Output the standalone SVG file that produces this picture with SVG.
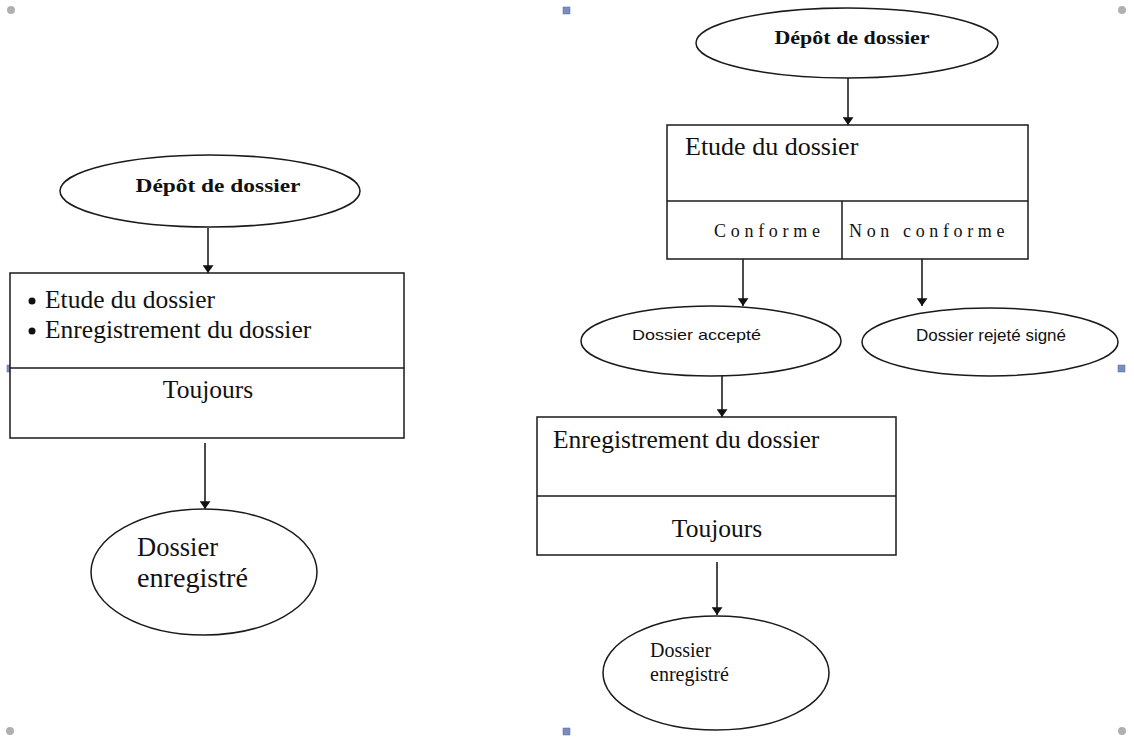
<svg xmlns="http://www.w3.org/2000/svg" width="1134" height="743" viewBox="0 0 1134 743">
  <style>
    .shape { fill: #ffffff; stroke: #1a1a1a; stroke-width: 1.5; }
    .div { stroke: #1a1a1a; stroke-width: 1.5; fill: none; }
    .edge { stroke: #111111; stroke-width: 1.5; fill: none; marker-end: url(#arrow); }
    .serif { font-family: "Liberation Serif", "Times New Roman", serif; fill: #111111; }
    .sans { font-family: "Liberation Sans", Arial, sans-serif; fill: #111111; }
    .title { font-size: 18px; font-weight: bold; text-anchor: middle; }
    .big { font-size: 25.5px; }
    .bullet { fill: #111111; }
    .handle-sq { fill: #7b8cc0; stroke: #5a6a9a; stroke-width: 0.5; }
    .handle-ci { fill: #b0b0b0; }
  </style>
  <defs>
    <marker id="arrow" viewBox="0 0 10 14" refX="10" refY="7" markerWidth="14" markerHeight="11" markerUnits="userSpaceOnUse" orient="auto">
      <path d="M0,0 L10,7 L0,14 Z" fill="#111111"/>
    </marker>
  </defs>
  <rect width="1134" height="743" fill="#ffffff"/>

  <!-- frame handles -->
  <g id="handles">
    <circle class="handle-ci" cx="11" cy="10" r="4"/>
    <circle class="handle-ci" cx="1122" cy="10" r="4"/>
    <circle class="handle-ci" cx="10" cy="731" r="4"/>
    <circle class="handle-ci" cx="1122" cy="731" r="4"/>
    <rect class="handle-sq" x="563" y="7" width="7" height="7"/>
    <rect class="handle-sq" x="563" y="728" width="7" height="7"/>
    <rect class="handle-sq" x="7" y="365" width="7" height="7"/>
    <rect class="handle-sq" x="1118" y="365" width="7" height="7"/>
  </g>

  <!-- connectors -->
  <g id="connectors">
    <line class="edge" x1="208" y1="228" x2="208" y2="273"/>
    <line class="edge" x1="205" y1="443" x2="205" y2="509"/>
    <line class="edge" x1="848" y1="78" x2="848" y2="125"/>
    <line class="edge" x1="743" y1="259" x2="743" y2="306"/>
    <line class="edge" x1="922" y1="259" x2="922" y2="306"/>
    <line class="edge" x1="722" y1="376" x2="722" y2="417"/>
    <line class="edge" x1="717" y1="562" x2="717" y2="615"/>
  </g>

  <!-- left flow -->
  <g id="left-depot">
    <ellipse class="shape" cx="210" cy="191" rx="150" ry="36"/>
    <text class="serif title" x="218" y="192" textLength="165" lengthAdjust="spacingAndGlyphs">Dépôt de dossier</text>
  </g>
  <g id="left-traitement">
    <rect class="shape" x="10" y="273" width="394" height="165"/>
    <line class="div" x1="10" y1="368" x2="404" y2="368"/>
    <circle class="bullet" cx="32" cy="301" r="3.5"/>
    <text class="serif big" x="45" y="308">Etude du dossier</text>
    <circle class="bullet" cx="32" cy="331" r="3.5"/>
    <text class="serif big" x="45" y="338">Enregistrement du dossier</text>
    <text class="serif big" x="208" y="398" text-anchor="middle">Toujours</text>
  </g>
  <g id="left-enregistre">
    <ellipse class="shape" cx="204" cy="572" rx="113" ry="63"/>
    <text class="serif" x="137" y="556" font-size="26.5">Dossier</text>
    <text class="serif" x="137" y="587" font-size="26.5" textLength="111" lengthAdjust="spacingAndGlyphs">enregistré</text>
  </g>

  <!-- right flow -->
  <g id="right-depot">
    <ellipse class="shape" cx="847" cy="43" rx="151" ry="35"/>
    <text class="serif title" x="852" y="44" textLength="155" lengthAdjust="spacingAndGlyphs">Dépôt de dossier</text>
  </g>
  <g id="right-etude">
    <rect class="shape" x="667" y="125" width="361" height="134"/>
    <line class="div" x1="667" y1="201" x2="1028" y2="201"/>
    <line class="div" x1="842" y1="201" x2="842" y2="259"/>
    <text class="serif" x="685" y="155" font-size="26">Etude du dossier</text>
    <text class="serif" x="714" y="237" font-size="18" letter-spacing="3" textLength="109">Conforme</text>
    <text class="serif" x="849" y="237" font-size="18" letter-spacing="2.5" textLength="158">Non conforme</text>
  </g>
  <g id="right-accepte">
    <ellipse class="shape" cx="711" cy="341" rx="130" ry="35"/>
    <text class="sans" x="632" y="340" font-size="15" textLength="129" lengthAdjust="spacingAndGlyphs">Dossier accepté</text>
  </g>
  <g id="right-rejete">
    <ellipse class="shape" cx="990" cy="342" rx="128" ry="34"/>
    <text class="sans" x="916" y="341" font-size="17" textLength="150" lengthAdjust="spacingAndGlyphs">Dossier rejeté signé</text>
  </g>
  <g id="right-enregistrement">
    <rect class="shape" x="537" y="417" width="359" height="138"/>
    <line class="div" x1="537" y1="496" x2="896" y2="496"/>
    <text class="serif big" x="553" y="448">Enregistrement du dossier</text>
    <text class="serif big" x="717" y="537" text-anchor="middle">Toujours</text>
  </g>
  <g id="right-enregistre">
    <ellipse class="shape" cx="716" cy="673" rx="113" ry="57"/>
    <text class="serif" x="650" y="657" font-size="20">Dossier</text>
    <text class="serif" x="650" y="681" font-size="20">enregistré</text>
  </g>
</svg>
